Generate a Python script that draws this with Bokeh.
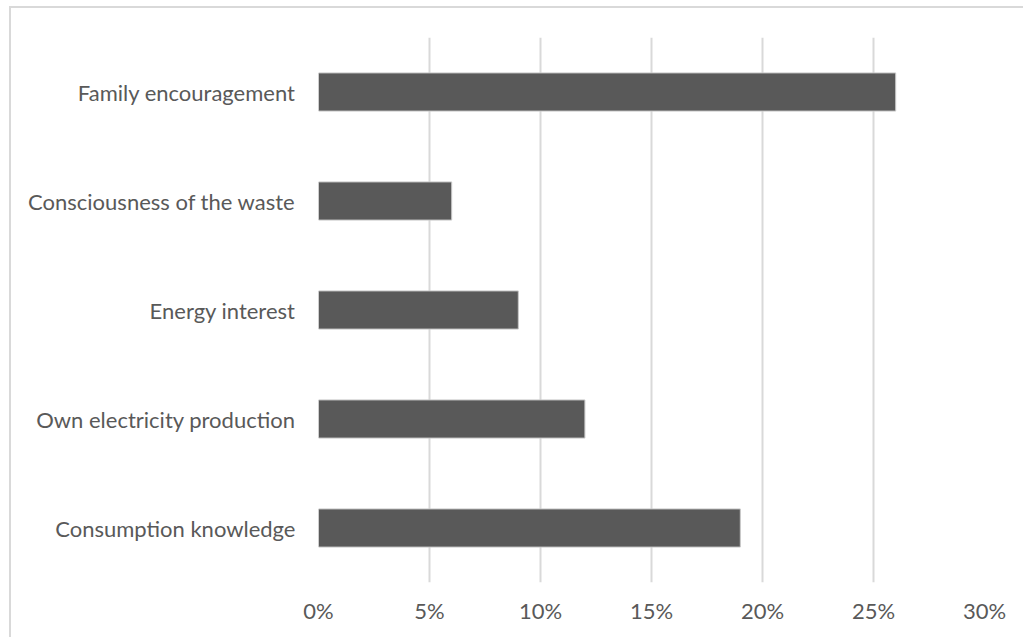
from bokeh.plotting import figure
from bokeh.models import Range1d, FactorRange, FixedTicker, PrintfTickFormatter, ColumnDataSource
from bokeh.embed import file_html
from bokeh.resources import INLINE

categories = ["Family encouragement", "Consciousness of the waste", "Energy interest",
              "Own electricity production", "Consumption knowledge"]
values = [26, 6, 9, 12, 19]
tick_values = [0, 5, 10, 15, 20, 25, 30]

FONT = "Lato"
TEXT_COLOR = "#595959"

source = ColumnDataSource(dict(cat=categories, val=values))

p = figure(width=1014, height=631, output_backend="svg", toolbar_location=None,
           y_range=FactorRange(factors=list(reversed(categories)), range_padding=0),
           x_range=Range1d(0, 30),
           min_border_left=307, min_border_right=41, min_border_top=29, min_border_bottom=57)
p.margin = (6, 0, 0, 9)
p.styles = {"border-left": "2px solid #d9d9d9", "border-top": "2px solid #d9d9d9"}

p.hbar(y="cat", right="val", left=0, height=0.35, source=source,
       fill_color="#595959", line_color="#c8c8c8", line_width=1)

p.outline_line_color = None
p.ygrid.grid_line_color = None
p.xgrid.grid_line_color = "#d9d9d9"
p.xgrid.grid_line_width = 2

p.xaxis.ticker = FixedTicker(ticks=tick_values)
p.xaxis.formatter = PrintfTickFormatter(format="%d%%")
for ax in (p.xaxis, p.yaxis):
    ax.axis_line_color = None
    ax.major_tick_line_color = None
    ax.minor_tick_line_color = None
    ax.major_label_text_font = FONT
    ax.major_label_text_color = TEXT_COLOR
    ax.major_label_text_font_size = "22px"
p.xaxis.major_label_standoff = 8
p.yaxis.major_label_standoff = 17

open("out.html", "w").write(file_html(p, INLINE))
